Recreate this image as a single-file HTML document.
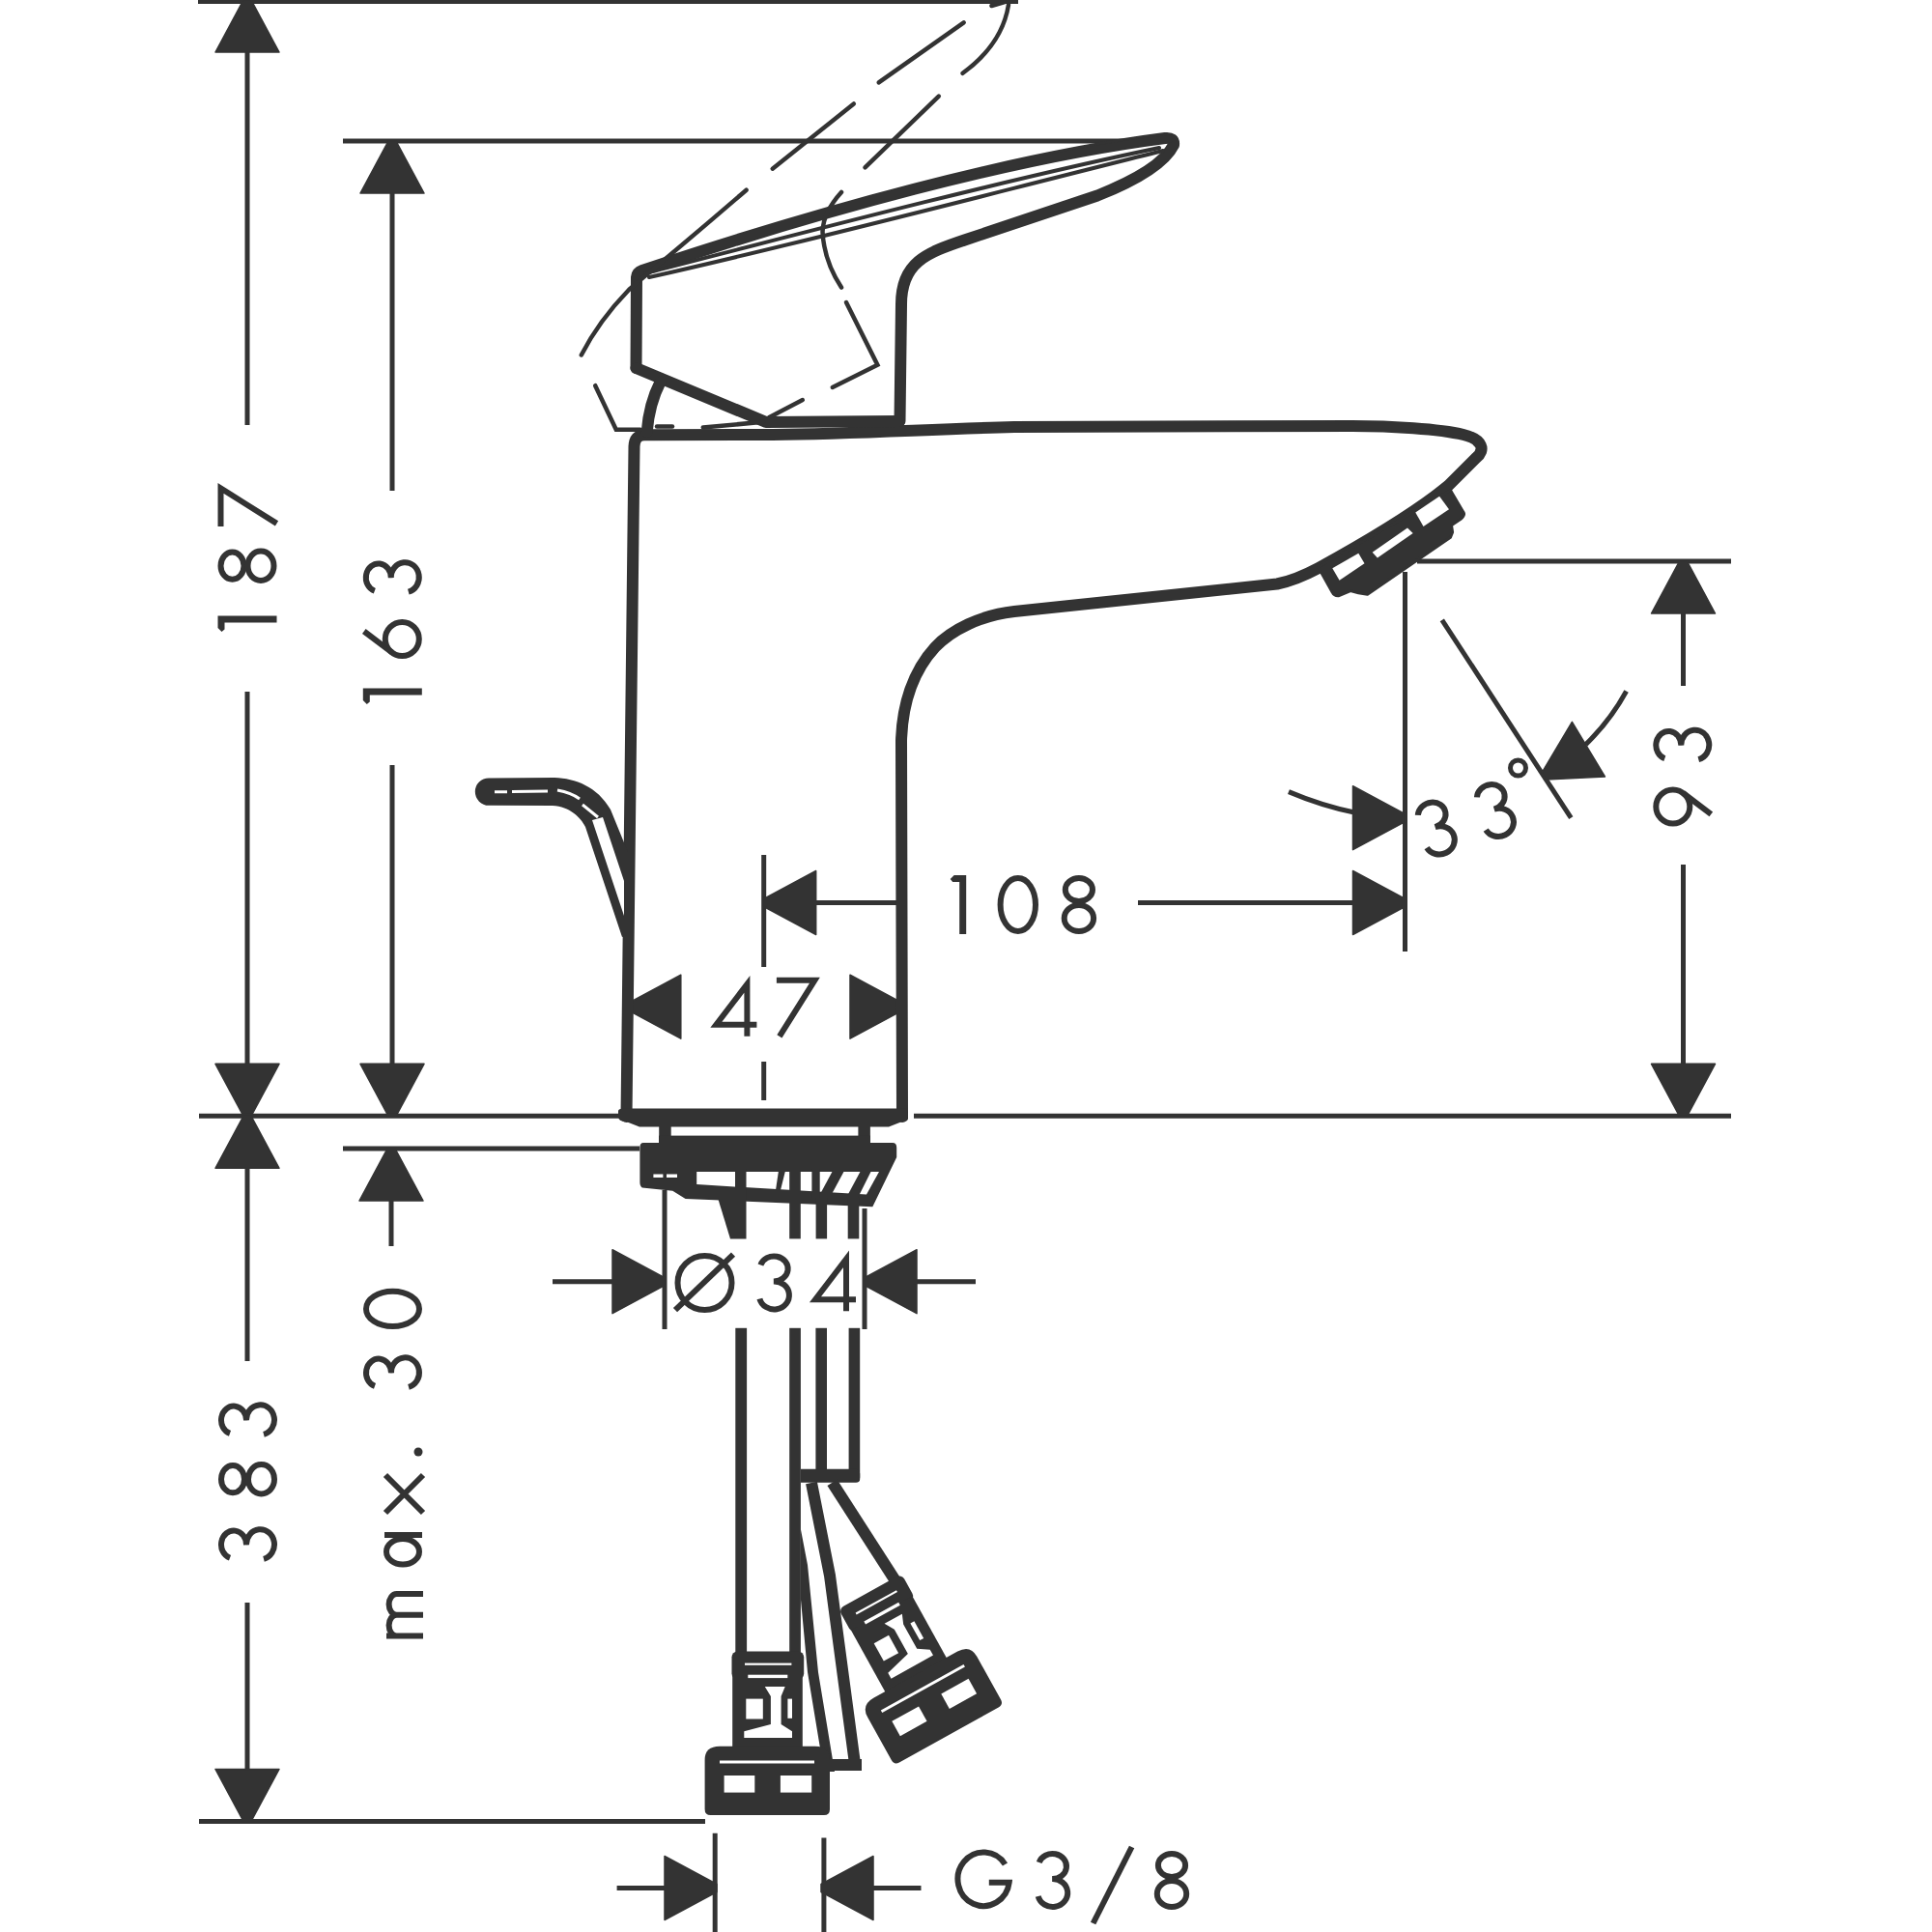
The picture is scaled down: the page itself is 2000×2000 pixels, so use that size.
<!DOCTYPE html><html><head><meta charset="utf-8"><style>html,body{margin:0;padding:0;background:#fff;overflow:hidden}svg{display:block}</style></head><body>
<svg width="2000" height="2000" viewBox="0 0 2000 2000">
<rect width="2000" height="2000" fill="#fff"/>
<path d="M205,1.6 H1054" fill="none" stroke="#333" stroke-width="5" />
<path d="M256,50 V440 M256,716 V1105" fill="none" stroke="#333" stroke-width="5" />
<path d="M260.0,0.0 L289.0,54.0 L223.0,54.0 L252.0,-0.0 Z" fill="#333" stroke="#333" stroke-width="1.5" stroke-linejoin="round"/>
<path d="M252.0,1155.3 L223.0,1101.3 L289.0,1101.3 L260.0,1155.3 Z" fill="#333" stroke="#333" stroke-width="1.5" stroke-linejoin="round"/>
<path d="M355,146 H1214" fill="none" stroke="#333" stroke-width="5" />
<path d="M406,195 V508 M406,792 V1105" fill="none" stroke="#333" stroke-width="5" />
<path d="M410.0,146.0 L439.0,200.0 L373.0,200.0 L402.0,146.0 Z" fill="#333" stroke="#333" stroke-width="1.5" stroke-linejoin="round"/>
<path d="M402.0,1155.3 L373.0,1101.3 L439.0,1101.3 L410.0,1155.3 Z" fill="#333" stroke="#333" stroke-width="1.5" stroke-linejoin="round"/>
<path d="M206,1155.3 H641 M946,1155.3 H1792" fill="none" stroke="#333" stroke-width="5" />
<path d="M256,1200 V1409 M256,1659 V1840" fill="none" stroke="#333" stroke-width="5" />
<path d="M260.0,1155.3 L289.0,1209.3 L223.0,1209.3 L252.0,1155.3 Z" fill="#333" stroke="#333" stroke-width="1.5" stroke-linejoin="round"/>
<path d="M252.0,1885.5 L223.0,1831.5 L289.0,1831.5 L260.0,1885.5 Z" fill="#333" stroke="#333" stroke-width="1.5" stroke-linejoin="round"/>
<path d="M206,1885.5 H730" fill="none" stroke="#333" stroke-width="5" />
<path d="M355,1189 H662" fill="none" stroke="#333" stroke-width="5" />
<path d="M405,1235 V1290" fill="none" stroke="#333" stroke-width="5" />
<path d="M409.0,1189.0 L438.0,1243.0 L372.0,1243.0 L401.0,1189.0 Z" fill="#333" stroke="#333" stroke-width="1.5" stroke-linejoin="round"/>
<path d="M1467,581 H1792" fill="none" stroke="#333" stroke-width="5" />
<path d="M1742.5,630 V710 M1742.5,895 V1105" fill="none" stroke="#333" stroke-width="5" />
<path d="M1746.5,581.0 L1775.5,635.0 L1709.5,635.0 L1738.5,581.0 Z" fill="#333" stroke="#333" stroke-width="1.5" stroke-linejoin="round"/>
<path d="M1738.5,1155.3 L1709.5,1101.3 L1775.5,1101.3 L1746.5,1155.3 Z" fill="#333" stroke="#333" stroke-width="1.5" stroke-linejoin="round"/>
<path d="M790.7,885 V1001 M790.7,1099 V1139" fill="none" stroke="#333" stroke-width="5" />
<path d="M790.7,930.5 L844.7,901.5 L844.7,967.5 L790.7,938.5 Z" fill="#333" stroke="#333" stroke-width="1.5" stroke-linejoin="round"/>
<path d="M840,934.5 H931" fill="none" stroke="#333" stroke-width="5" />
<path d="M650.8,1038.2 L704.8,1009.2 L704.8,1075.2 L650.8,1046.2 Z" fill="#333" stroke="#333" stroke-width="1.5" stroke-linejoin="round"/>
<path d="M934.0,1046.2 L880.0,1075.2 L880.0,1009.2 L934.0,1038.2 Z" fill="#333" stroke="#333" stroke-width="1.5" stroke-linejoin="round"/>
<path d="M1454.5,938.5 L1400.5,967.5 L1400.5,901.5 L1454.5,930.5 Z" fill="#333" stroke="#333" stroke-width="1.5" stroke-linejoin="round"/>
<path d="M1178,934.5 H1405" fill="none" stroke="#333" stroke-width="5" />
<path d="M1454.5,592 V985" fill="none" stroke="#333" stroke-width="5" />
<path d="M1492.8,641.8 L1626.3,846.7" fill="none" stroke="#333" stroke-width="5" />
<path d="M1454.5,850.7 L1400.5,879.7 L1400.5,813.7 L1454.5,842.7 Z" fill="#333" stroke="#333" stroke-width="1.5" stroke-linejoin="round"/>
<path d="M1334,819.6 Q1368,834 1402,841" fill="none" stroke="#333" stroke-width="5" />
<path d="M1596.0,800.1 L1627.4,747.4 L1661.4,804.0 L1600.2,806.9 Z" fill="#333" stroke="#333" stroke-width="1.5" stroke-linejoin="round"/>
<path d="M1683.6,715.5 Q1667,746 1641.6,770.6" fill="none" stroke="#333" stroke-width="5" />
<path d="M688,1232 V1376 M895,1251 V1376" fill="none" stroke="#333" stroke-width="5" />
<path d="M688.0,1330.7 L634.0,1359.7 L634.0,1293.7 L688.0,1322.7 Z" fill="#333" stroke="#333" stroke-width="1.5" stroke-linejoin="round"/>
<path d="M895.0,1322.7 L949.0,1293.7 L949.0,1359.7 L895.0,1330.7 Z" fill="#333" stroke="#333" stroke-width="1.5" stroke-linejoin="round"/>
<path d="M572,1326.7 H640 M945,1326.7 H1010" fill="none" stroke="#333" stroke-width="5" />
<path d="M740.2,1897.7 V2000 M852.9,1902.4 V2000" fill="none" stroke="#333" stroke-width="5" />
<path d="M742.0,1958.5 L688.0,1987.5 L688.0,1921.5 L742.0,1950.5 Z" fill="#333" stroke="#333" stroke-width="1.5" stroke-linejoin="round"/>
<path d="M850.0,1950.5 L904.0,1921.5 L904.0,1987.5 L850.0,1958.5 Z" fill="#333" stroke="#333" stroke-width="1.5" stroke-linejoin="round"/>
<path d="M638.6,1954.5 H690 M900,1954.5 H953.5" fill="none" stroke="#333" stroke-width="5" />
<g transform="translate(996.7,967.0)" stroke="#333" stroke-width="6"><path d="M-13,-57 L-9,-61 L3.5,-61 L3.5,0 L-3.5,0 L-3.5,-54 L-10.5,-54 Z" fill="#333" stroke="none"/></g>
<g transform="translate(1053.8,967.0)" stroke="#333" stroke-width="6"><ellipse cx="0" cy="-30.5" rx="18.2" ry="27.5" fill="none"/></g>
<g transform="translate(1116.9,967.0)" stroke="#333" stroke-width="6"><ellipse cx="0" cy="-46" rx="14.1" ry="12" fill="none"/><ellipse cx="0" cy="-16.5" rx="15.2" ry="13.5" fill="none"/></g>
<g transform="translate(761.4,1072.8)" stroke="#333" stroke-width="6"><path d="M12,0 V-54 L-20,-12 H22" fill="none" stroke-linejoin="miter"/></g>
<g transform="translate(826.4,1072.8)" stroke="#333" stroke-width="6"><path d="M-22.5,-58 H17 L-19.5,0" fill="none" stroke-linejoin="miter"/></g>
<g transform="translate(729.5,1359.0)" stroke="#333" stroke-width="6"><circle cx="0" cy="-31" r="28" fill="none"/><path d="M-30.5,-2.8 L29.5,-60.4" fill="none"/></g>
<g transform="translate(801.4,1358.4)" stroke="#333" stroke-width="6"><path d="M-14,-49 A14.5 13 0 1 1 -0.5,-32 A15.5 14.5 0 1 1 -15,-14" fill="none"/></g>
<g transform="translate(864.0,1357.3)" stroke="#333" stroke-width="6"><path d="M12,0 V-54 L-20,-12 H22" fill="none" stroke-linejoin="miter"/></g>
<g transform="translate(1018.0,1977.0)" stroke="#333" stroke-width="6"><path d="M22.5,-47 A26.7 27.8 0 1 0 26.7,-28.3 H5.8" fill="none"/></g>
<g transform="translate(1089.7,1977.0)" stroke="#333" stroke-width="6"><path d="M-14,-49 A14.5 13 0 1 1 -0.5,-32 A15.5 14.5 0 1 1 -15,-14" fill="none"/></g>
<g transform="translate(1151.6,1977.0)" stroke="#333" stroke-width="6"><path d="M-20,14 L20,-65" fill="none"/></g>
<g transform="translate(1213.0,1977.0)" stroke="#333" stroke-width="6"><ellipse cx="0" cy="-46" rx="14.1" ry="12" fill="none"/><ellipse cx="0" cy="-16.5" rx="15.2" ry="13.5" fill="none"/></g>
<g transform="translate(286.5,522.4) rotate(-90)" stroke="#333" stroke-width="6"><path d="M-22.5,-58 H17 L-19.5,0" fill="none" stroke-linejoin="miter"/></g>
<g transform="translate(286.5,585.7) rotate(-90)" stroke="#333" stroke-width="6"><ellipse cx="0" cy="-46" rx="14.1" ry="12" fill="none"/><ellipse cx="0" cy="-16.5" rx="15.2" ry="13.5" fill="none"/></g>
<g transform="translate(286.5,641.0) rotate(-90)" stroke="#333" stroke-width="6"><path d="M-13,-57 L-9,-61 L3.5,-61 L3.5,0 L-3.5,0 L-3.5,-54 L-10.5,-54 Z" fill="#333" stroke="none"/></g>
<g transform="translate(436.8,597.7) rotate(-90)" stroke="#333" stroke-width="6"><path d="M-14,-49 A14.5 13 0 1 1 -0.5,-32 A15.5 14.5 0 1 1 -15,-14" fill="none"/></g>
<g transform="translate(436.8,661.5) rotate(-90)" stroke="#333" stroke-width="6"><circle cx="0" cy="-20.5" r="17.5" fill="none"/><path d="M8,-60 L-13.9,-31.1" fill="none"/></g>
<g transform="translate(436.8,716.0) rotate(-90)" stroke="#333" stroke-width="6"><path d="M-13,-57 L-9,-61 L3.5,-61 L3.5,0 L-3.5,0 L-3.5,-54 L-10.5,-54 Z" fill="#333" stroke="none"/></g>
<g transform="translate(1772.3,771.2) rotate(-90)" stroke="#333" stroke-width="6"><path d="M-14,-49 A14.5 13 0 1 1 -0.5,-32 A15.5 14.5 0 1 1 -15,-14" fill="none"/></g>
<g transform="translate(1772.3,834.9) rotate(-90)" stroke="#333" stroke-width="6"><circle cx="0" cy="-40.5" r="17.5" fill="none"/><path d="M-8,-1 L13.9,-29.9" fill="none"/></g>
<g transform="translate(287.0,1469.9) rotate(-90)" stroke="#333" stroke-width="6"><path d="M-14,-49 A14.5 13 0 1 1 -0.5,-32 A15.5 14.5 0 1 1 -15,-14" fill="none"/></g>
<g transform="translate(287.0,1531.2) rotate(-90)" stroke="#333" stroke-width="6"><ellipse cx="0" cy="-46" rx="14.1" ry="12" fill="none"/><ellipse cx="0" cy="-16.5" rx="15.2" ry="13.5" fill="none"/></g>
<g transform="translate(287.0,1598.8) rotate(-90)" stroke="#333" stroke-width="6"><path d="M-14,-49 A14.5 13 0 1 1 -0.5,-32 A15.5 14.5 0 1 1 -15,-14" fill="none"/></g>
<g transform="translate(437.0,1354.9) rotate(-90)" stroke="#333" stroke-width="6"><ellipse cx="0" cy="-30.5" rx="18.2" ry="27.5" fill="none"/></g>
<g transform="translate(437.0,1420.9) rotate(-90)" stroke="#333" stroke-width="6"><path d="M-14,-49 A14.5 13 0 1 1 -0.5,-32 A15.5 14.5 0 1 1 -15,-14" fill="none"/></g>
<g transform="translate(437.0,1503.0) rotate(-90)" stroke="#333" stroke-width="6"><circle cx="0" cy="-4" r="4.5" fill="#333" stroke="none"/></g>
<g transform="translate(437.0,1546.5) rotate(-90)" stroke="#333" stroke-width="6"><path d="M-19.5,-38 L19.5,1 M19.5,-38 L-19.5,1" fill="none"/></g>
<g transform="translate(437.0,1604.5) rotate(-90)" stroke="#333" stroke-width="6"><ellipse cx="-1.8" cy="-20" rx="13.3" ry="17" fill="none"/><path d="M15.5,-39 V0" fill="none"/></g>
<g transform="translate(437.0,1671.7) rotate(-90)" stroke="#333" stroke-width="6"><path d="M-21.7,1 V-26.4 A10.85 8 0 0 1 0,-26.4 V1 M0,-26.4 A10.85 8 0 0 1 21.7,-26.4 V1 M-21.7,-26 V-37" fill="none"/></g>
<g transform="translate(1486.6,857.5) rotate(-17) translate(0,30.5)" stroke="#333" stroke-width="6"><path d="M-14,-49 A14.5 13 0 1 1 -0.5,-32 A15.5 14.5 0 1 1 -15,-14" fill="none"/></g>
<g transform="translate(1547.7,839.0) rotate(-17) translate(0,30.5)" stroke="#333" stroke-width="6"><path d="M-14,-49 A14.5 13 0 1 1 -0.5,-32 A15.5 14.5 0 1 1 -15,-14" fill="none"/></g>
<circle cx="1571.5" cy="795" r="8" fill="none" stroke="#333" stroke-width="5"/>
<g id="faucet" fill="none" stroke="#333" stroke-linejoin="round" stroke-linecap="round">
<!-- body left side -->
<!-- body top, spout, body right -->
<path d="M648.5,1156 L656.5,462 Q657,450.5 667,450.3 L800,450 C880,449 950,445 1050,442 L1400,441 C1440,441 1490,444 1515,450 C1535,455 1538,466 1528,474 L1499,503 C1460,535 1405,566 1365,588 C1350,596 1335,602 1322,604.5 L1050,633 C1015,637 985,652 968,670 C945,695 934,730 933,767 L934,1156" stroke-width="12"/>
<!-- body bottom bar -->
<path d="M640,1150 Q640,1147.5 646,1147.5 L936,1147.5 Q940,1147.5 940,1152 L940,1158 Q940,1161 934,1161 L920,1166.5 L662,1166.5 L648,1161 Q640,1161 640,1156 Z" fill="#333" stroke="none"/>
<!-- posts & nut -->
<g fill="#333" stroke="none">
<rect x="682.2" y="1165" width="12.5" height="20"/>
<rect x="888.4" y="1165" width="12.5" height="20"/>
<rect x="682" y="1175.6" width="219" height="9"/>
<path d="M666,1183 L924,1183 Q928.2,1183 928.2,1188 L928.2,1198 L903.3,1249.3 L709.6,1241 L696.3,1232.8 L664.8,1229.4 Q662.4,1228 662.4,1224 L662.4,1188 Q662.4,1183 666,1183 Z"/>
<path d="M742.7,1239 L772.5,1239 L772.5,1282.4 L756,1282.4 Z"/>
<rect x="817.2" y="1240" width="11.6" height="42.4"/>
<rect x="844.6" y="1240" width="11.5" height="42.4"/>
<rect x="877.7" y="1240" width="11.6" height="42.4"/>
</g>
<g fill="#fff" stroke="none">
<path d="M721.2,1212.9 L910,1212.9 L897,1236.6 L721.2,1226.1 Z"/>
<rect x="676.4" y="1215.5" width="10" height="3.5"/>
<rect x="690" y="1215.5" width="11" height="3.5"/>
</g>
<g fill="#333" stroke="none">
<rect x="761" y="1210" width="11.5" height="30"/>
<rect x="817.2" y="1210" width="11.6" height="30"/>
<rect x="840.4" y="1210" width="8.3" height="30"/>
<path d="M806,1212 L813,1212 L808,1232 L803,1232 Z"/>
<path d="M862,1212 L874,1212 L860,1238 L848,1238 Z"/>
<path d="M891,1212 L902,1212 L888,1240 L876,1240 Z"/>
</g>
<!-- tubes -->
<g fill="#333" stroke="none">
<rect x="761.3" y="1374.8" width="11.8" height="336"/>
<rect x="817.2" y="1374.8" width="11.7" height="336"/>
<rect x="844.4" y="1374.8" width="11.6" height="150"/>
<rect x="878.6" y="1374.8" width="11.6" height="155"/>
<path d="M829,1520.8 L886,1520.8 Q890.2,1520.8 890.2,1526 L890.2,1531 Q890.2,1534.8 886,1534.8 L829,1534.8 Z"/>
</g>
<!-- middle wedge and right hose lines -->
<path d="M828.9,1583 L836,1620 L847,1731 L864,1834 L853,1834 L836,1731 L828.9,1655 Z" fill="#333" stroke="none"/>
<path d="M840,1535 L859,1631 L885,1826" stroke-width="12" stroke-linecap="butt"/>
<path d="M852,1827 H892" stroke-width="12" stroke-linecap="butt"/>
<path d="M861.5,1534.8 L926,1635" stroke-width="12" stroke-linecap="butt"/>
</g>
<defs>
<g id="conn">
 <g fill="#333" stroke="none">
  <rect x="757.5" y="1709.5" width="74.7" height="29" rx="6"/>
  <rect x="758.2" y="1735" width="72.6" height="76"/>
  <path d="M745,1807.8 L844,1807.8 Q859,1807.8 859,1822 L859,1873 Q859,1879 853,1879 L735.6,1879 Q729.6,1879 729.6,1873 L729.6,1822 Q729.6,1807.8 745,1807.8 Z"/>
 </g>
 <g fill="#fff" stroke="none">
  <rect x="771" y="1721.6" width="48.4" height="2.2"/>
  <rect x="774.3" y="1733.7" width="41" height="3.4"/>
  <path d="M791.8,1745.9 L812.7,1745.9 L808.6,1756 L808.6,1785 L820,1792.3 L820,1799 L770.3,1799 L770.3,1792.3 L797.9,1785 L797.9,1756 Z"/>
  <rect x="772.3" y="1758.6" width="17.5" height="20.9"/>
  <rect x="815.4" y="1758.6" width="4.6" height="20.2"/>
  <rect x="745" y="1822.5" width="98" height="3"/>
  <rect x="749.6" y="1838" width="31.7" height="17.6"/>
  <rect x="807.9" y="1838" width="32.3" height="17.6"/>
 </g>
</g>
</defs>
<use href="#conn"/>
<use href="#conn" transform="translate(965.3,1764.7) rotate(-29) translate(-794.6,-1843.4)"/>
<!-- aerator -->
<path d="M1364.8,587.3 L1379.3,613.2 Q1381,617 1385.5,616.8 L1398,611.6 L1406.3,613.7 L1415.6,615.3 L1501.5,556.3 L1503.6,551 L1502.5,543.8 L1511.8,537.6 Q1517,533 1515,530.4 L1501.5,507.6 Z" fill="#333" stroke="#333" stroke-width="3" stroke-linejoin="round"/>
<g fill="#fff" stroke="none">
<path d="M1379.3,588.3 L1406.3,572.8 L1412.5,583.2 L1386.6,600.8 Z"/>
<path d="M1420.7,571.8 L1457,546.4 L1462.7,552.1 L1425.9,577.5 Z"/>
<path d="M1465.3,530.4 L1490.1,513.8 L1500,527.3 L1473.5,544.9 Z"/>
</g>
<!-- solid lever -->
<g fill="none" stroke="#333" stroke-linejoin="round" stroke-linecap="round">
<path d="M658.5,381 L659,287 Q659.5,282 665,280 C850,218 1050,163 1206,143 Q1216,142 1215,150 C1205,170 1175,187 1136,202.5 L1000,248 C958,262 933,272 933,315 L931.5,436" stroke-width="12"/>
<path d="M658.5,381 L793,437 L931,436" stroke-width="12"/>
<path d="M683.4,395.8 Q672,418 669.7,447" stroke-width="12"/>
<path d="M668,283 C850,236 1050,184 1200,153" stroke-width="4"/>
<path d="M672,287 C850,247 1050,194 1204,156" stroke-width="4"/>
<path d="M950,194 C1050,170 1150,150 1210,144" stroke-width="8"/>
</g>
<!-- dashed lever -->
<g fill="none" stroke="#333" stroke-width="4.5" stroke-linecap="round">
<path d="M601.8,367.5 Q620,332 651,300 C670,283 690,268 772.6,196.7"/>
<path d="M799.7,174.7 L883.8,107.4"/>
<path d="M909.7,85.4 L997.7,23.3"/>
<path d="M1026.5,6 L1040,2"/>
<path d="M1044,5 C1040,30 1025,55 996.6,75.8"/>
<path d="M895.5,173.4 L971.8,99.6"/>
<path d="M871,199 Q852,220 851.5,240 Q853,270 871,297.6"/>
<path d="M876,313 L908.4,377.8 L861.8,401"/>
<path d="M830.8,414 L795.9,432.2"/>
<path d="M616.2,399.2 L637.8,444.8 L662.9,444.8"/>
<path d="M680,441.5 L696,441.5"/>
<path d="M727.8,442.5 L790,436.8"/>
</g>
<!-- pop-up rod -->
<path d="M506,805.4 L574,805 C596,806 618,814 632,838 L650,882 L650,968 L644,970 L606,856 C601,846 590,835 572,834 L506,833.8 A14.2 14.2 0 0 1 506,805.4 Z" fill="#333" stroke="none"/>
<path d="M613,849 L624,846 L646,912 L646,948 Z" fill="#fff" stroke="none"/>
<path d="M512,819.8 L525,819.8 M530,819.5 L567,819 M577,818 C588,820 596,824 600,827 M603,833 L619,846" fill="none" stroke="#fff" stroke-width="3"/>

</svg></body></html>
